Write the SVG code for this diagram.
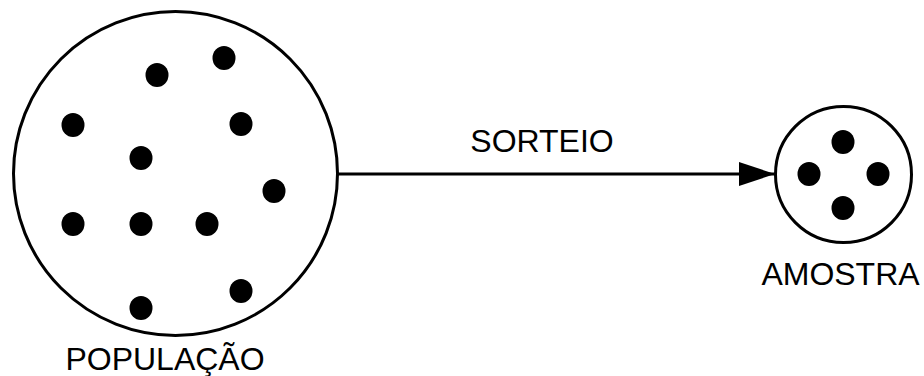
<svg xmlns="http://www.w3.org/2000/svg" width="924" height="376" viewBox="0 0 924 376">
<defs>
<style>
.ring{fill:#fff;stroke:#000;stroke-width:3}
.dot{fill:#000}
.lbl{font-family:"Liberation Sans",Arial,sans-serif;font-size:32px;fill:#000;text-anchor:middle}
</style>
<marker id="arr" markerUnits="userSpaceOnUse" markerWidth="38" markerHeight="26" refX="37" refY="12" orient="auto">
<path d="M1,0 L37,12 L1,24 Z" fill="#000"/>
</marker>
</defs>
<g id="connectors">
<line x1="338" y1="174" x2="775" y2="174" stroke="#000" stroke-width="3" marker-end="url(#arr)"/>
<text class="lbl" x="542" y="152">SORTEIO</text>
</g>
<g id="populacao">
<circle class="ring" cx="175.5" cy="173.5" r="162"/>
<ellipse class="dot" cx="157" cy="75" rx="11.5" ry="12"/>
<ellipse class="dot" cx="224" cy="58" rx="11.5" ry="12"/>
<ellipse class="dot" cx="73" cy="125" rx="11.5" ry="12"/>
<ellipse class="dot" cx="241" cy="124" rx="11.5" ry="12"/>
<ellipse class="dot" cx="141" cy="158" rx="11.5" ry="12"/>
<ellipse class="dot" cx="274" cy="191" rx="11.5" ry="12"/>
<ellipse class="dot" cx="73" cy="224" rx="11.5" ry="12"/>
<ellipse class="dot" cx="141" cy="224" rx="11.5" ry="12"/>
<ellipse class="dot" cx="207" cy="224" rx="11.5" ry="12"/>
<ellipse class="dot" cx="241" cy="291" rx="11.5" ry="12"/>
<ellipse class="dot" cx="141" cy="308" rx="11.5" ry="12"/>
<text class="lbl" x="165" y="370">POPULAÇÃO</text>
</g>
<g id="amostra">
<circle class="ring" cx="843.5" cy="174.5" r="68"/>
<ellipse class="dot" cx="843" cy="142" rx="11.5" ry="12"/>
<ellipse class="dot" cx="809" cy="174" rx="11.5" ry="12"/>
<ellipse class="dot" cx="878" cy="174" rx="11.5" ry="12"/>
<ellipse class="dot" cx="843" cy="208" rx="11.5" ry="12"/>
<text class="lbl" x="840.5" y="285">AMOSTRA</text>
</g>
</svg>
